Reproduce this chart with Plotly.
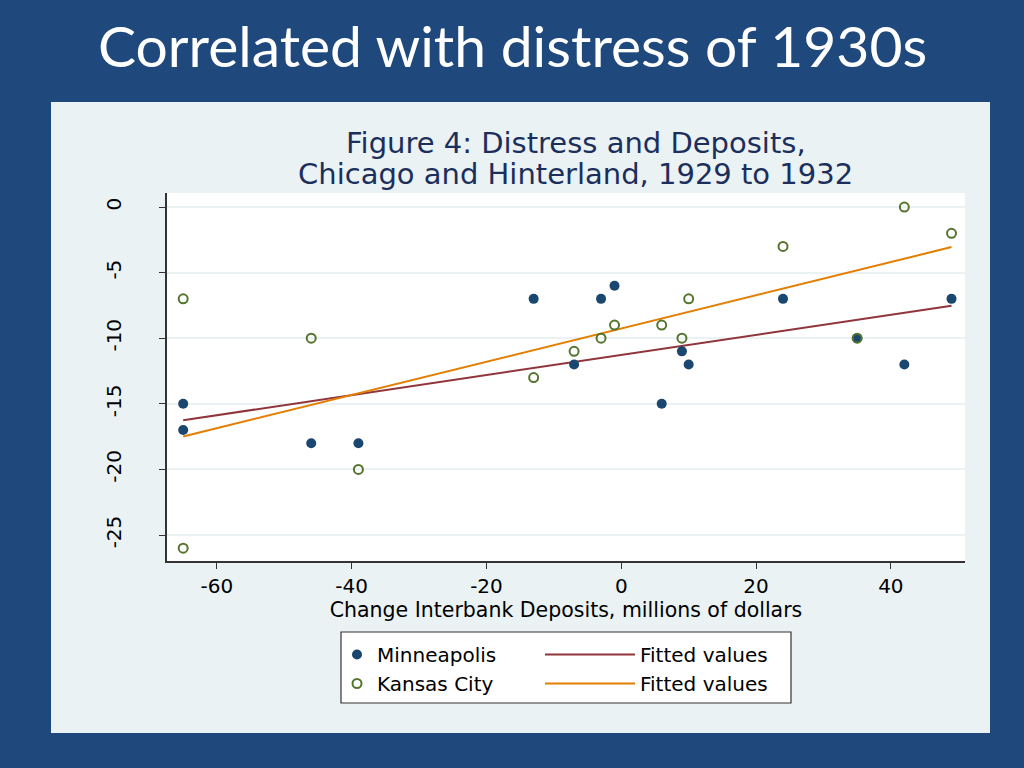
import numpy as np
import plotly.graph_objects as go

# ---- data ----
mpls_x = [-65, -65, -46, -39, -13, -7, -3, -1, 6, 9, 10, 24, 35, 42, 49]
mpls_y = [-15, -17, -18, -18, -7, -12, -7, -6, -15, -11, -12, -7, -10, -12, -7]
kc_x = [-65, -65, -46, -39, -13, -7, -3, -1, 6, 9, 10, 24, 35, 42, 49]
kc_y = [-7, -26, -10, -20, -13, -11, -10, -9, -9, -10, -7, -3, -10, 0, -2]

x_ticks = [-60, -40, -20, 0, 20, 40]
x_ticktext = ["-60", "-40", "-20", "0", "20", "40"]
y_ticks = [-25, -20, -15, -10, -5, 0]
y_ticktext = ["-25", "-20", "-15", "-10", "-5", "0"]

slide_title = "Correlated with distress of 1930s"
fig_title_1 = "Figure 4: Distress and Deposits,"
fig_title_2 = "Chicago and Hinterland, 1929 to 1932"
x_title = "Change Interbank Deposits, millions of dollars"

NAVY = "#1a476f"
MAROON = "#90353b"
GREEN = "#55752f"
ORANGE = "#e37e00"
PANEL = "#eaf2f3"
SLIDE = "#1f497d"
SANS = "DejaVu Sans, Liberation Sans, Arial, sans-serif"


def fit_line(xs, ys):
    xs = np.asarray(xs, float)
    ys = np.asarray(ys, float)
    b, a = np.polyfit(xs, ys, 1)
    xx = np.array([xs.min(), xs.max()])
    return xx, a + b * xx


fmx, fmy = fit_line(mpls_x, mpls_y)
fkx, fky = fit_line(kc_x, kc_y)

fig = go.Figure()
fig.add_trace(go.Scatter(x=fmx, y=fmy, mode="lines", name="Fitted values",
                         line=dict(color=MAROON, width=2), legend="legend2"))
fig.add_trace(go.Scatter(x=fkx, y=fky, mode="lines", name="Fitted values",
                         line=dict(color=ORANGE, width=2), legend="legend2"))
fig.add_trace(go.Scatter(x=mpls_x, y=mpls_y, mode="markers", name="Minneapolis",
                         marker=dict(symbol="circle", size=10, color=NAVY),
                         legend="legend"))
fig.add_trace(go.Scatter(x=kc_x, y=kc_y, mode="markers", name="Kansas City",
                         marker=dict(symbol="circle-open", size=9, color=GREEN,
                                     line=dict(width=2, color=GREEN)),
                         legend="legend"))

L, R, T, B = 167, 59, 193, 207
W, H = 1024, 768
pw, ph = W - L - R, H - T - B


def px(xp):
    return (xp - L) / pw


def py(yp):
    return (H - B - yp) / ph


shapes = [
    dict(type="rect", xref="paper", yref="paper", x0=px(51), x1=px(990),
         y0=py(733), y1=py(102), fillcolor=PANEL, line=dict(width=0), layer="below"),
    dict(type="rect", xref="paper", yref="paper", x0=0, x1=1, y0=0, y1=1,
         fillcolor="white", line=dict(width=0), layer="below"),
    dict(type="rect", xref="paper", yref="paper", x0=px(341), x1=px(791),
         y0=py(703), y1=py(632), fillcolor="white",
         line=dict(width=1.2, color="#333333"), layer="below"),
]

fig.update_layout(
    width=W, height=H,
    margin=dict(l=L, r=R, t=T, b=B),
    paper_bgcolor=SLIDE,
    plot_bgcolor="rgba(0,0,0,0)",
    shapes=shapes,
    font=dict(family=SANS, size=20, color="black"),
    xaxis=dict(range=[-67.4, 51.0], tickvals=x_ticks, ticktext=x_ticktext,
               showgrid=False, zeroline=False, showline=True, linecolor="#333333",
               linewidth=1.5, ticks="outside", ticklen=6, tickcolor="#333333",
               tickfont=dict(family=SANS, size=20, color="black"),
               title=dict(text=x_title, standoff=2,
                          font=dict(family=SANS, size=20.5, color="black"))),
    yaxis=dict(range=[-26.98, 1.07], tickvals=y_ticks, ticktext=y_ticktext,
               showgrid=True, gridcolor=PANEL, gridwidth=2, zeroline=False,
               showline=True, linecolor="#333333", linewidth=1.5,
               ticks="outside", ticklen=6, tickcolor="#333333", tickangle=-90,
               ticklabelstandoff=30,
               tickfont=dict(family=SANS, size=20, color="black")),
    legend=dict(x=px(337), y=py(635), xanchor="left", yanchor="top",
                bgcolor="rgba(0,0,0,0)", font=dict(family=SANS, size=20, color="black"),
                itemwidth=30, tracegroupgap=0),
    legend2=dict(x=px(540), y=py(635), xanchor="left", yanchor="top",
                 bgcolor="rgba(0,0,0,0)", font=dict(family=SANS, size=20, color="black"),
                 itemwidth=90, tracegroupgap=0),
    annotations=[
        dict(text=slide_title, xref="paper", yref="paper", x=px(512), y=py(45),
             xanchor="center", yanchor="middle", showarrow=False,
             font=dict(family="Lato, Open Sans, sans-serif", size=57, color="white")),
        dict(text=fig_title_1, xref="paper", yref="paper", x=px(576), y=py(143),
             xanchor="center", yanchor="middle", showarrow=False,
             font=dict(family=SANS, size=29, color="#1c2f5c")),
        dict(text=fig_title_2, xref="paper", yref="paper", x=px(575), y=py(174),
             xanchor="center", yanchor="middle", showarrow=False,
             font=dict(family=SANS, size=29, color="#1c2f5c")),
    ],
)

fig.write_html("out.html",
               config={"displayModeBar": False},
               post_script="document.body.style.margin='0';"
                           "document.body.style.overflow='hidden';")
